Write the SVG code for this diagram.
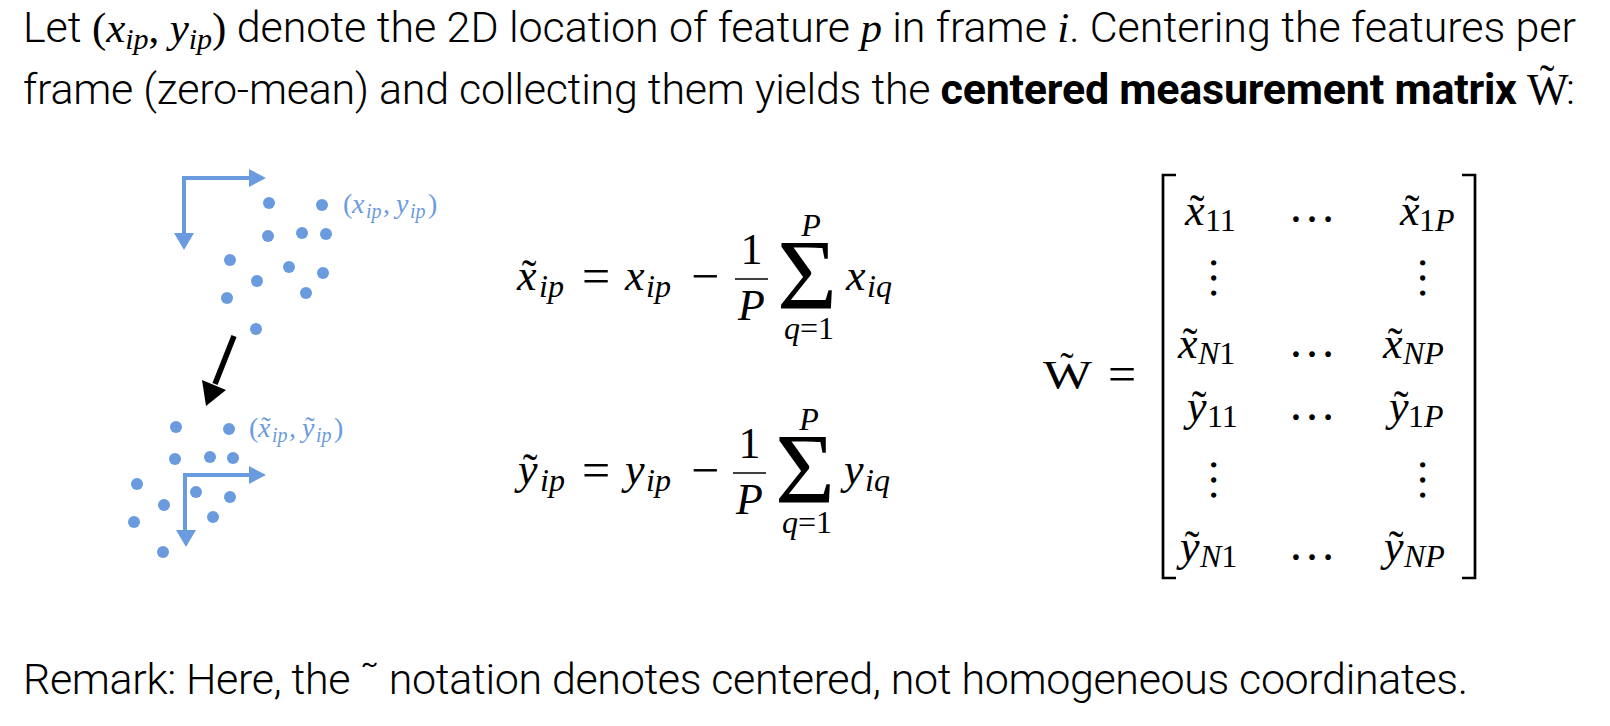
<svg xmlns="http://www.w3.org/2000/svg" width="1610" height="726" viewBox="0 0 1610 726">
<style>
.body{font-family:"Roboto Light",Roboto,"Liberation Sans",sans-serif;font-weight:300;font-size:43px;fill:#000}
.bold{font-family:Roboto,"Liberation Sans",sans-serif;font-weight:700}
.mr{font-family:"Liberation Serif",serif;font-style:normal;font-weight:400}
.mi{font-family:"Liberation Serif",serif;font-style:italic;font-weight:400}
.m{font-family:"Liberation Serif",serif;font-size:44px;fill:#000}
.sub{font-size:32px}
.op{font-size:50px}
.big{font-size:100px}
.lbl{font-family:"Liberation Serif",serif;font-size:28px;fill:#6a9bdf}
.lsub{font-size:20px}
.dot{fill:#6a9bdf}
.axis{stroke:#6a9bdf;stroke-width:4;fill:none}
.axhead{fill:#6a9bdf}
.br{stroke:#000;stroke-width:2.7;fill:none}
.c{text-anchor:middle}
</style>

<g id="intro">
<text class="body" x="23" y="42" textLength="1553" lengthAdjust="spacing">Let <tspan class="mr">(</tspan><tspan class="mi">x</tspan><tspan class="mi" font-size="30" dy="7">ip</tspan><tspan class="mr" dy="-7">, </tspan><tspan class="mi">y</tspan><tspan class="mi" font-size="30" dy="7">ip</tspan><tspan class="mr" dy="-7">)</tspan> denote the 2D location of feature <tspan class="mi">p</tspan> in frame <tspan class="mi">i</tspan>. Centering the features per</text>
<text class="body" x="23" y="104" textLength="1494" lengthAdjust="spacing">frame (zero-mean) and collecting them yields the <tspan class="bold">centered measurement matrix</tspan></text>
<text class="mr" x="1527" y="104" font-size="44" font-weight="700">W</text>
<text class="mr c" x="1547" y="95" font-size="44">˜</text>
<text class="body" x="1566" y="104">:</text>
</g>

<g id="frame-original">
<path class="axis" d="M251,178 H184 V235"/>
<polygon class="axhead" points="266,178 249,169 249,187"/>
<polygon class="axhead" points="184,250 174,233 194,233"/>
<circle class="dot" cx="269" cy="203" r="6"/>
<circle class="dot" cx="322" cy="205" r="6"/>
<circle class="dot" cx="268" cy="236" r="6"/>
<circle class="dot" cx="302" cy="233" r="6"/>
<circle class="dot" cx="326" cy="234" r="6"/>
<circle class="dot" cx="230" cy="260" r="6"/>
<circle class="dot" cx="289" cy="267" r="6"/>
<circle class="dot" cx="323" cy="273" r="6"/>
<circle class="dot" cx="257" cy="281" r="6"/>
<circle class="dot" cx="227" cy="298" r="6"/>
<circle class="dot" cx="306" cy="293" r="6"/>
<circle class="dot" cx="256" cy="329" r="6"/>
<text class="lbl" y="213"><tspan class="mr" x="343">(</tspan><tspan class="mi" x="352">x</tspan><tspan class="mi lsub" x="366" dy="5">ip</tspan><tspan class="mr" x="383" dy="-5">,</tspan><tspan class="mi" x="396">y</tspan><tspan class="mi lsub" x="410" dy="5">ip</tspan><tspan class="mr" x="428" dy="-5">)</tspan></text>
</g>

<g id="connectors">
<line x1="234" y1="336" x2="215" y2="384" stroke="#000" stroke-width="5.5"/>
<polygon points="206,406 202,380 226,390" fill="#000"/>
</g>

<g id="frame-centered">
<path class="axis" d="M251,475 H185 V532"/>
<polygon class="axhead" points="266,475 249,466 249,484"/>
<polygon class="axhead" points="186,547 176,530 196,530"/>
<circle class="dot" cx="176" cy="427" r="6"/>
<circle class="dot" cx="229" cy="429" r="6"/>
<circle class="dot" cx="175" cy="459" r="6"/>
<circle class="dot" cx="210" cy="457" r="6"/>
<circle class="dot" cx="233" cy="458" r="6"/>
<circle class="dot" cx="137" cy="484" r="6"/>
<circle class="dot" cx="196" cy="492" r="6"/>
<circle class="dot" cx="230" cy="497" r="6"/>
<circle class="dot" cx="164" cy="505" r="6"/>
<circle class="dot" cx="213" cy="517" r="6"/>
<circle class="dot" cx="134" cy="522" r="6"/>
<circle class="dot" cx="163" cy="552" r="6"/>
<text class="lbl" y="437"><tspan class="mr" x="249">(</tspan><tspan class="mi" x="258">x</tspan><tspan class="mi lsub" x="272" dy="5">ip</tspan><tspan class="mr" x="289" dy="-5">,</tspan><tspan class="mi" x="302">y</tspan><tspan class="mi lsub" x="316" dy="5">ip</tspan><tspan class="mr" x="334" dy="-5">)</tspan></text>
<text class="lbl mr c" x="266" y="436">˜</text>
<text class="lbl mr c" x="310" y="436">˜</text>
</g>

<g id="eq1" class="m">
<text class="mi" x="517" y="290">x</text>
<text class="mr c" x="529" y="290">˜</text>
<text class="mi sub" x="539" y="297">ip</text>
<text class="mr c op" x="596" y="293">=</text>
<text class="mi" x="625" y="290">x</text>
<text class="mi sub" x="646" y="297">ip</text>
<text class="mr c op" x="705" y="293">−</text>
<line x1="735" y1="279" x2="768" y2="279" stroke="#000" stroke-width="1.7"/>
<text class="mr c" x="751.5" y="264">1</text>
<text class="mi c" x="751.5" y="320">P</text>
<text class="mr c big" x="807" y="308" textLength="60" lengthAdjust="spacingAndGlyphs">Σ</text>
<text class="mi sub c" x="811" y="236">P</text>
<text class="sub c" x="809" y="339"><tspan class="mi">q</tspan><tspan class="mr">=1</tspan></text>
<text class="mi" x="846" y="290">x</text>
<text class="mi sub" x="867" y="297">iq</text>
</g>

<g id="eq2" class="m">
<text class="mi" x="518" y="484">y</text>
<text class="mr c" x="530" y="484">˜</text>
<text class="mi sub" x="540" y="491">ip</text>
<text class="mr c op" x="596" y="487">=</text>
<text class="mi" x="625" y="484">y</text>
<text class="mi sub" x="646" y="491">ip</text>
<text class="mr c op" x="705" y="487">−</text>
<line x1="733" y1="473" x2="766" y2="473" stroke="#000" stroke-width="1.7"/>
<text class="mr c" x="749.5" y="458">1</text>
<text class="mi c" x="749.5" y="514">P</text>
<text class="mr c big" x="805" y="502" textLength="60" lengthAdjust="spacingAndGlyphs">Σ</text>
<text class="mi sub c" x="809" y="430">P</text>
<text class="sub c" x="807" y="533"><tspan class="mi">q</tspan><tspan class="mr">=1</tspan></text>
<text class="mi" x="844" y="484">y</text>
<text class="mi sub" x="865" y="491">iq</text>
</g>

<g id="matrix" class="m">
<text class="mr" x="1043" y="388" font-weight="700" font-size="40" textLength="49" lengthAdjust="spacingAndGlyphs">W</text>
<text class="mr c" x="1067" y="380" font-size="40">˜</text>
<text class="mr c op" x="1122" y="391">=</text>
<path class="br" d="M1176,175 H1163 V578 H1176"/>
<path class="br" d="M1462,175 H1475 V578 H1462"/>
<text class="mi" x="1185" y="225">x</text><text class="mr c" x="1197" y="225">˜</text><text class="mr sub" x="1205" y="231">11</text>
<text class="mr c" x="1312" y="222" font-size="48">…</text>
<text class="mi" x="1400" y="225">x</text><text class="mr c" x="1412" y="225">˜</text><text class="sub" x="1419" y="231"><tspan class="mr">1</tspan><tspan class="mi">P</tspan></text>
<text class="mr c" font-size="45" transform="translate(1213,278) rotate(90)" y="2.5">…</text>
<text class="mr c" font-size="45" transform="translate(1422,278) rotate(90)" y="2.5">…</text>
<text class="mi" x="1178" y="358">x</text><text class="mr c" x="1190" y="358">˜</text><text class="mi sub" x="1198" y="364">N<tspan class="mr">1</tspan></text>
<text class="mr c" x="1312" y="357" font-size="48">…</text>
<text class="mi" x="1383" y="358">x</text><text class="mr c" x="1395" y="358">˜</text><text class="mi sub" x="1403" y="364">NP</text>
<text class="mi" x="1187" y="421">y</text><text class="mr c" x="1199" y="421">˜</text><text class="mr sub" x="1207" y="427">11</text>
<text class="mr c" x="1312" y="420" font-size="48">…</text>
<text class="mi" x="1389" y="421">y</text><text class="mr c" x="1401" y="421">˜</text><text class="sub" x="1408" y="427"><tspan class="mr">1</tspan><tspan class="mi">P</tspan></text>
<text class="mr c" font-size="45" transform="translate(1213,480) rotate(90)" y="2.5">…</text>
<text class="mr c" font-size="45" transform="translate(1422,480) rotate(90)" y="2.5">…</text>
<text class="mi" x="1180" y="561">y</text><text class="mr c" x="1192" y="561">˜</text><text class="mi sub" x="1200" y="567">N<tspan class="mr">1</tspan></text>
<text class="mr c" x="1312" y="560" font-size="48">…</text>
<text class="mi" x="1384" y="561">y</text><text class="mr c" x="1396" y="561">˜</text><text class="mi sub" x="1404" y="567">NP</text>
</g>

<g id="remark">
<text class="body" x="23" y="694" textLength="1445" lengthAdjust="spacing">Remark: Here, the ˜ notation denotes centered, not homogeneous coordinates.</text>
</g>
</svg>
